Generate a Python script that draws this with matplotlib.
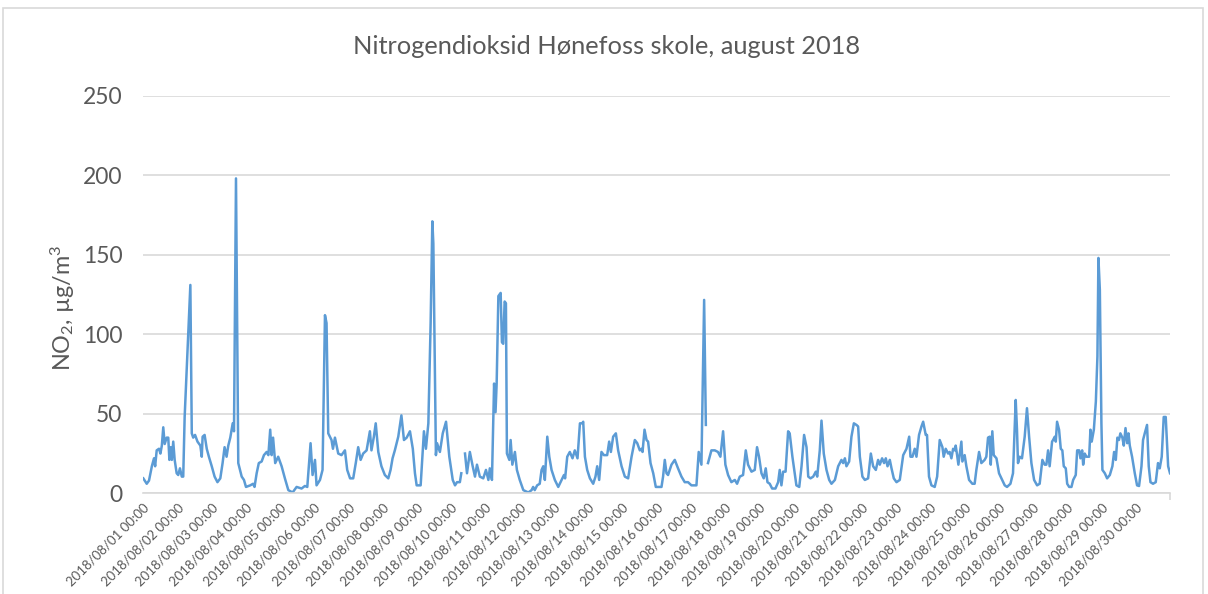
import numpy as np
import matplotlib.pyplot as plt
from matplotlib.patches import Rectangle
from matplotlib.transforms import ScaledTranslation

plt.rcParams['font.family'] = ['Lato', 'DejaVu Sans']
plt.rcParams['mathtext.fontset'] = 'custom'
plt.rcParams['mathtext.rm'] = 'Lato'
plt.rcParams['mathtext.it'] = 'Lato:italic'

# hourly NO2 (hours after 2018/08/01 00:00), None = missing
hours = [
    0, 2.4, 4, 6, 7.5, 8.3, 9.4, 11, 12, 13, 14, 15, 16.4, 17.5, 18.3, 19.2, 20, 21, 22, 23.4,
    24.5, 25.7, 27, 28, 29, 31.5, 33, 34, 35, 36.3, 38, 40, 41, 41.6, 43, 44.5, 46, 48, 50, 52,
    54, 55.6, 57, 58.4, 59.6, 61, 62.7, 63.6, 65, 66.6, 69, 70.6, 72, 75, 77, 78, 79.5, 81, 83, 84.6,
    86.5, 87.7, 89, 90, 91, 92.5, 94.6, 97, 99.3, 101.7, 104.7, 107.5, 111, 113.3, 115, 117.3, 118.7, 120.4, 121.5, 123.9,
    125.7, 127.4, 128.5, 129.7, 132, 133, 134.4, 136.7, 139, 141.4, 143, 145, 147.2, 149, 150.7, 152.4, 154.2, 156.6, 158.9, 160,
    161.7, 163, 164.8, 167, 169.4, 171.8, 173.4, 174.8, 176.4, 178.8, 181, 182.8, 184.7, 187, 189, 190.5, 191.7, 194.5, 196.8, 198.2,
    199.9, 201.5, 202.7, 203.4, 205.2, 206, 208, 210, 212.3, 214.6, 217, 218.6, 220, 222, 223, 224, 225.6, 227, 229, 231,
    232.6, 234, 236, 238.4, 240.3, 242, 243, 244.5, 246, 247, 247.8, 249, 250.6, 251.5, 252.4, 253.4, 254.3, 255, 256.7, 257.6,
    258.8, 260.6, 262, 264, 266.5, 270, 272.3, 273.4, 274.5, 276.2, 278, 279.3, 280.5, 281.6, 283.3, 284.7, 286.3, 288.6, 291, 293.3,
    295, 295.8, 297.3, 299.1, 301, 302.6, 304.5, 306.2, 307.8, 308.5, 309.7, 311.3, 313.2, 315.5, 317.1, 318.3, 319.7, 321.3, 323, 325.3,
    326.7, 327.9, 329.5, 331.4, 333, 335.4, 337.7, 340, 342.4, 344.7, 346.4, 348.2, 349.4, 350.1, 351.5, 352.9, 354, 355.7, 357.6, 359.4,
    363.4, 364.5, 365.7, 366.9, 368, 370.4, 372.7, 375, 377.4, 379.7, 382, 384.4, 387.9, 389.5, 391.4, 393.3, 394.5, 395.2, 396, 398.4,
    400.8, 403, 404.7, 406.6, 408.2, 410.1, 412.4, 414.8, 416.4, 418.3, 420.6, 422.5, 424.1, 426.5, 428.8, 430.4, 431.8, 433.5, 435.1, 436.5,
    437.7, 439.3, 441, 443.3, 445.2, 446.3, 447.5, 448.7, 450.4, 452.2, 453.3, 455.2, 456.8, 458, 460, 461.6, 463.4, 465.1, 466.3, 467.9,
    469.8, 471.6, 472.6, 474.4, 475.6, 477.2, 479.1, 481, 482.6, 485, 487.3, 489.6, 490.8, 492, 493.1, 495, 496.6, 498.3, 500.1, 501.3,
    502.5, 504.3, 506, 508.3, 510.2, 511.8, 513.7, 515.3, 516.5, 518.1, 519.5, 520.7, 521.9, 523.5, 524.7, 526.3, 528.2, 530.5, 532.9, 535.2,
    537.1, 538, 539.4, 541, 542.2, 544, 545.7, 546.9, 548.7, 549.6, 551, 552.7, 555, 556.7, 558.5, 560.4, 561.3, 562.7, 564.4, 565.5,
    566.7, 567.9, 569.1, 569.7, 570.7, 571.6, 572.5, 573.7, 574.4, 576, 577.2, 579.1, 581.4, 583, 584.2, 586.1, 587.7, 590, 591.2, 592.4,
    593.6, 594.3, 595.4, 596.4, 598.3, 600.1, 601.8, 604.1, 605.7, 608.1, 609.9, 611.8, 612.7, 613.4, 614.6, 616.2, 618.1, 619.7, 621.2, 622.8,
    624.7, 626.8, 628.6, 630.5, 632.1, 633.3, 634.5, 635.6, 637.3, 638, 639.2, 639.9, 640.8, 642.2, 643.4, 644.5, 645.5, 646.9, 647.9, 649.3,
    650.9, 652.1, 653.9, 654.9, 656.3, 657.2, 658.4, 659.1, 660.2, 661.4, 663.3, 664.2, 665.1, 666.6, 668, 669.1, 669.8, 670.8, 671.9, 672.6,
    674.3, 675.9, 677.8, 679.6, 680.8, 682, 683.1, 684.2, 685.2, 686.6, 687.6, 688.8, 690, 690.9, 691.8, 693.4, 695.3, 696.9, 698.3, 700,
    701.1, 702.3, 703.9, 705.1, 706.3, 708.1, 710, 711.6, 712.8, 714.2, 715.6, 717, 718.7, 720,
]
no2 = [
    9.4, 6, 8, 17, 22, 17, 27, 28, 25, 30, 41.5, 31, 35, 35, 21, 29, 21, 32.5, 21, 12.6,
    11.5, 15.7, 10.5, 10.5, 48, 100, 131, 37.7, 35, 36.7, 32.5, 30, 23, 35.6, 36.7, 28, 23, 17, 10.5, 7,
    9.4, 19, 29, 23, 30, 35, 44, 39, 198, 19, 10.5, 8.4, 4, 5, 6, 4, 12.6, 19, 20, 24,
    26, 24, 40, 24, 35, 19, 23, 17, 9.4, 2, 0.5, 4, 3, 4.6, 4, 31.5, 11.5, 21, 5, 8.4,
    14.7, 112, 107, 37.7, 33.5, 28, 35, 25, 24, 27, 14.7, 9.4, 9.4, 19, 29, 21, 25, 27, 39, 27,
    35.6, 44, 26, 17, 11.5, 9.4, 14.7, 22, 27, 35.6, 49, 33.5, 35, 39, 28, 12.6, 5, 5, 39, 28,
    44, 107, 171, 157, 24, 31.5, 26, 37.7, 45, 23, 8.4, 5, 7, 7, 12.6, None, 25, 12.6, 26, 17,
    10.5, 18, 10.5, 9.4, 14.7, 8.4, 15.7, 8.4, 69, 51, 69, 124, 126, 95, 94, 120.6, 119.5, 25, 21, 33.5,
    18, 26, 14.7, 8.4, 2, 0.5, 2, 4, 2, 5, 6, 14.7, 17, 8.4, 35.6, 23, 14.7, 8.4, 4, 8.4,
    11.5, 9.4, 23, 26, 22, 27, 22, 44, 44, 45, 23, 14.7, 9.4, 6, 10.5, 17, 8.4, 26, 24, 24,
    32.5, 26, 35.6, 37.7, 27, 17, 10.5, 9.4, 23, 33.5, 31.5, 27, 28, 26, 40, 33.5, 32.5, 19, 12.6, 4,
    4, 10.5, 21, 12.6, 11.5, 18, 21, 15.7, 10.5, 7, 7, 5, 5, 26, 18, 121.6, 43, None, 19, 27,
    27, 26, 23, 39, 18, 11.5, 7, 8.4, 6, 10.5, 11.5, 27, 18, 13.6, 14.7, 29, 23, 12.6, 9.4, 15.7,
    7, 6, 3, 3, 7, 14.7, 5, 13.6, 13.6, 39, 37.7, 23, 12.6, 5, 4, 17, 36.7, 29, 10.5, 9.4,
    10.5, 13.6, 10.5, 27, 45.7, 25, 14.7, 8.4, 6, 8.4, 17, 21, 19, 22, 17, 20, 35.6, 44, 43, 42,
    23, 10.5, 8.4, 9.4, 25, 17, 14.7, 21, 18, 22, 19, 22, 17, 21, 15.7, 9.4, 7, 8.4, 24, 28,
    35.6, 23, 23, 28, 23, 36.7, 42, 45, 36.7, 36.7, 10.5, 5, 4, 10.5, 33.5, 29, 23, 28, 25, 26,
    22, 28, 27, 30, 24, 18, 24, 32.5, 20, 24, 17, 8.4, 6, 6, 14.7, 26, 19, 21, 23, 35,
    35.6, 18, 39, 24, 22, 12.6, 9.4, 5, 4, 6, 12.6, 58.7, 40, 19, 23, 22, 35.6, 53.5, 35.6, 19,
    8.4, 5, 6, 21, 18, 18, 27, 17, 32.5, 33.5, 35.6, 32.5, 45, 40, 28, 27, 17, 15.7, 6, 4,
    4, 8.4, 11.5, 27, 27, 22, 27, 18, 25, 23, 23, 40, 32.5, 40, 57.7, 86, 148, 128, 44, 14.7,
    12.6, 9.4, 11.5, 17, 26, 21, 35, 33.5, 37.7, 35, 30, 41, 31.5, 37.7, 30, 23, 12.6, 5, 4.6, 17,
    33.5, 37.7, 43, 17, 7, 6, 7, 19, 15.7, 23, 48, 48, 17, 12.6,
]
y_ticks = [0, 50, 100, 150, 200, 250]
day_labels = ['2018/08/%02d 00:00' % d for d in range(1, 31)]

x = np.array(hours, dtype=float)
y = np.array([np.nan if v is None else v for v in no2], dtype=float)

fig = plt.figure(figsize=(12.08, 5.94), dpi=100)
ax = fig.add_axes([143.3 / 1208, 1 - 493.3 / 594, (1170 - 143.3) / 1208, (493.3 - 95.7) / 594])

ax.plot(x, y, color='#5B9BD5', lw=1.8, solid_joinstyle='round')

ax.set_xlim(0, 720)
ax.set_ylim(0, 250)
ax.set_yticks(y_ticks)
ax.grid(axis='y', color='#D9D9D9', lw=1.2)
ax.set_axisbelow(True)
for s in ['top', 'right', 'left']:
    ax.spines[s].set_visible(False)
ax.spines['bottom'].set_color('#D9D9D9')
ax.spines['bottom'].set_linewidth(1.2)

ax.set_xticks(np.arange(0, 720, 24), labels=day_labels)
ax.set_xticks(np.arange(0, 721, 24), minor=True)
ax.tick_params(axis='x', which='major', length=0, pad=9, labelsize=9.5, labelcolor='#595959')
ax.tick_params(axis='x', which='minor', length=5, color='#D9D9D9', width=1.2)
shift = ScaledTranslation(4 / 100, 0, fig.dpi_scale_trans)
for lab in ax.get_xticklabels():
    lab.set_rotation(45)
    lab.set_ha('right')
    lab.set_va('center')
    lab.set_rotation_mode('anchor')
    lab.set_transform(lab.get_transform() + shift)
ax.tick_params(axis='y', length=0, pad=15, labelsize=16.5, labelcolor='#595959')

fig.text(607 / 1208, 1 - 46 / 594, 'Nitrogendioksid Hønefoss skole, august 2018',
         ha='center', va='center', fontsize=18.3, color='#595959')
fig.text(63 / 1208, 1 - 308 / 594, r'NO$_2$, µg/m$^3$', rotation=90,
         ha='center', va='center', fontsize=16.8, color='#595959')

fig.patches.append(Rectangle((3 / 1208, -0.1), 1200 / 1208, 1.1 - 8 / 594, transform=fig.transFigure,
                             fill=False, edgecolor='#D9D9D9', lw=1.2))

fig.savefig('out.png', dpi=100)
